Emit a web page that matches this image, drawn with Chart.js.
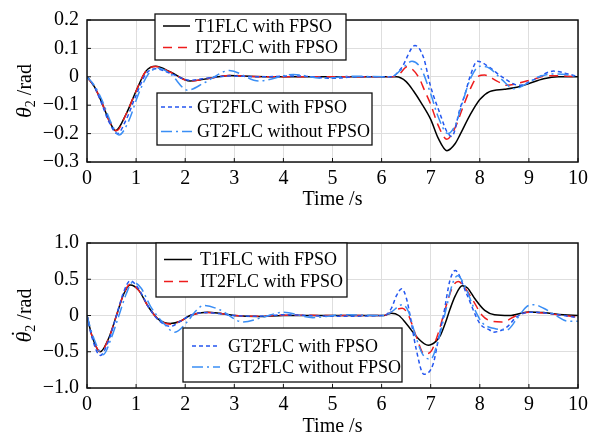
<!DOCTYPE html>
<html>
<head>
<meta charset="utf-8">
<script src="https://cdn.jsdelivr.net/npm/chart.js@4"></script>
<style>
  body { margin: 0; background: #fff; }
  .wrap { position: absolute; left: 0; width: 604px; }
</style>
</head>
<body>
<div class="wrap" style="top:0;height:220px"><canvas id="topChart" width="604" height="220"></canvas></div>
<div class="wrap" style="top:220px;height:221px"><canvas id="bottomChart" width="604" height="221"></canvas></div>
<script>
// series names (same for both panels)
const seriesLabels = ['T1FLC with FPSO', 'IT2FLC with FPSO', 'GT2FLC with FPSO', 'GT2FLC without FPSO'];

// tick labels
const xTicks = [0, 1, 2, 3, 4, 5, 6, 7, 8, 9, 10];
const topYTicks = [0.2, 0.1, 0, -0.1, -0.2, -0.3];
const bottomYTicks = [1.0, 0.5, 0, -0.5, -1.0];

// ---- top panel: theta2 (rad) ----
const topT1Time = [0, 0.15, 0.3, 0.45, 0.58, 0.8, 1.0, 1.2, 1.4, 1.7, 2.1, 2.5, 2.9, 3.4, 4.0, 5.0, 6.3, 6.5, 6.65, 6.8, 7.0, 7.15, 7.33, 7.5, 7.6, 7.8, 8.0, 8.2, 8.5, 8.8, 9.0, 9.3, 9.6, 10];
const topT1 = [0, -0.035, -0.09, -0.153, -0.19, -0.13, -0.05, 0.02, 0.037, 0.017, -0.015, -0.005, 0.005, 0.001, 0, 0, 0, -0.017, -0.05, -0.09, -0.15, -0.215, -0.26, -0.235, -0.203, -0.135, -0.08, -0.052, -0.044, -0.035, -0.024, -0.007, 0, 0];

const topIT2Time = [0, 0.15, 0.3, 0.45, 0.6, 0.8, 1.0, 1.2, 1.4, 1.7, 2.1, 2.5, 2.9, 3.4, 4.0, 5.0, 6.2, 6.35, 6.52, 6.75, 6.88, 7.0, 7.15, 7.33, 7.5, 7.65, 7.8, 7.95, 8.1, 8.35, 8.55, 8.8, 9.1, 9.4, 9.7, 10];
const topIT2 = [0, -0.035, -0.09, -0.155, -0.19, -0.13, -0.05, 0.02, 0.036, 0.016, -0.015, -0.005, 0.005, 0.001, 0, 0, 0, 0.008, 0.035, 0, -0.05, -0.097, -0.17, -0.22, -0.178, -0.11, -0.045, 0, 0.006, -0.015, -0.03, -0.022, -0.008, 0.004, 0.003, 0];

const topGT2Time = [0, 0.15, 0.3, 0.45, 0.62, 0.8, 1.0, 1.2, 1.4, 1.7, 2.1, 2.5, 2.9, 3.5, 4.3, 5.0, 5.5, 6.2, 6.4, 6.68, 6.85, 7.0, 7.2, 7.32, 7.43, 7.6, 7.7, 7.8, 7.95, 8.2, 8.45, 8.8, 9.1, 9.5, 9.8, 10];
const topGT2 = [0, -0.035, -0.095, -0.16, -0.2, -0.15, -0.065, 0.01, 0.028, 0.012, -0.012, -0.003, 0.003, 0, 0.003, -0.005, 0, 0, 0.03, 0.11, 0.07, -0.035, -0.135, -0.19, -0.21, -0.11, -0.06, 0, 0.055, 0.033, 0, -0.03, -0.01, 0.02, 0.01, 0];

const topGT2noTime = [0, 0.15, 0.3, 0.5, 0.65, 0.85, 1.05, 1.25, 1.45, 1.7, 2.05, 2.4, 2.9, 3.5, 4.2, 4.8, 5.4, 6.2, 6.4, 6.62, 6.8, 7.0, 7.15, 7.35, 7.5, 7.65, 7.8, 8.0, 8.2, 8.45, 8.7, 8.95, 9.2, 9.5, 9.75, 10];
const topGT2no = [0, -0.03, -0.08, -0.165, -0.205, -0.155, -0.06, 0.01, 0.03, 0.01, -0.047, -0.02, 0.022, -0.015, 0.008, -0.005, 0.002, 0, 0.025, 0.055, 0.03, -0.06, -0.14, -0.2, -0.17, -0.09, -0.01, 0.037, 0.03, -0.01, -0.042, -0.025, 0, 0.01, 0.008, 0];

// ---- bottom panel: theta2 dot (rad) ----
const botT1Time = [0, 0.1, 0.27, 0.45, 0.6, 0.75, 0.88, 1.05, 1.25, 1.45, 1.7, 1.9, 2.1, 2.45, 2.7, 3.0, 3.5, 4.0, 5.0, 6.05, 6.2, 6.35, 6.5, 6.75, 6.95, 7.1, 7.2, 7.3, 7.4, 7.5, 7.64, 7.75, 7.9, 8.1, 8.3, 8.6, 9.0, 9.3, 9.7, 10];
const botT1 = [0, -0.28, -0.5, -0.3, 0, 0.3, 0.42, 0.35, 0.12, -0.05, -0.11, -0.08, 0, 0.045, 0.03, 0, -0.015, 0, 0, 0, 0.03, 0, -0.11, -0.32, -0.41, -0.36, -0.27, -0.1, 0.1, 0.27, 0.41, 0.38, 0.23, 0.07, 0.01, 0, 0.05, 0.04, 0.01, 0];

const botIT2Time = [0, 0.1, 0.28, 0.45, 0.6, 0.75, 0.88, 1.05, 1.25, 1.45, 1.7, 1.9, 2.1, 2.45, 2.7, 3.0, 3.5, 4.0, 5.0, 6.05, 6.2, 6.42, 6.55, 6.7, 6.87, 7.0, 7.15, 7.3, 7.45, 7.56, 7.7, 7.87, 8.05, 8.25, 8.45, 8.75, 9.0, 9.3, 9.7, 10];
const botIT2 = [0, -0.28, -0.5, -0.3, 0, 0.3, 0.43, 0.35, 0.12, -0.05, -0.12, -0.08, 0, 0.04, 0.03, 0, -0.01, 0.005, 0, 0, 0.05, 0.1, 0, -0.28, -0.53, -0.5, -0.25, 0.1, 0.4, 0.47, 0.38, 0.2, 0, -0.08, -0.09, 0, 0.045, 0.035, 0, -0.02];

const botGT2Time = [0, 0.1, 0.27, 0.45, 0.6, 0.75, 0.88, 1.05, 1.25, 1.45, 1.7, 1.9, 2.1, 2.4, 2.7, 3.0, 3.5, 4.0, 5.0, 6.05, 6.2, 6.3, 6.41, 6.5, 6.58, 6.7, 6.86, 7.05, 7.15, 7.26, 7.39, 7.5, 7.73, 8.0, 8.2, 8.27, 8.55, 8.75, 9.02, 9.4, 9.7, 10];
const botGT2 = [0, -0.3, -0.55, -0.33, 0, 0.33, 0.48, 0.37, 0.12, -0.06, -0.15, -0.08, 0, 0.04, 0.025, 0, -0.01, 0.01, -0.01, 0, 0.1, 0.27, 0.37, 0.25, 0, -0.45, -0.81, -0.67, -0.35, 0, 0.48, 0.62, 0.3, -0.11, -0.2, -0.23, -0.16, -0.02, 0.045, 0.03, 0, -0.03];

const botGT2noTime = [0, 0.12, 0.33, 0.5, 0.65, 0.8, 0.93, 1.1, 1.3, 1.55, 1.79, 2.05, 2.2, 2.38, 2.7, 3.18, 3.6, 4.0, 4.6, 5.2, 6.05, 6.2, 6.42, 6.55, 6.7, 6.85, 7.0, 7.15, 7.3, 7.45, 7.55, 7.7, 7.87, 8.05, 8.3, 8.55, 8.75, 8.95, 9.1, 9.3, 9.55, 9.8, 10];
const botGT2no = [0, -0.28, -0.54, -0.3, 0, 0.3, 0.46, 0.38, 0.12, -0.1, -0.23, -0.08, 0.05, 0.14, 0.08, -0.09, -0.02, 0.045, -0.03, 0.01, 0, 0.05, 0.15, 0.05, -0.3, -0.55, -0.6, -0.35, 0.05, 0.45, 0.55, 0.4, 0.12, -0.1, -0.18, -0.2, -0.05, 0.12, 0.15, 0.1, 0, -0.08, -0.08];

// line styles per series
const lineStyles = [
  { color: '#000000', dash: [] },
  { color: '#ee1c1c', dash: [9, 6] },
  { color: '#2456f0', dash: [4, 3] },
  { color: '#3a8ef5', dash: [11, 4, 2, 4] }
];

const serif = '"Liberation Serif", "Times New Roman", serif';

function pairs(ts, vs) {
  return ts.map((t, i) => ({ x: t, y: vs[i] }));
}

function makeDatasets(seriesList) {
  return seriesList.map((s, i) => ({
    label: seriesLabels[i],
    data: pairs(s[0], s[1]),
    borderColor: lineStyles[i].color,
    borderDash: lineStyles[i].dash,
    borderWidth: 1.5,
    pointRadius: 0,
    cubicInterpolationMode: 'monotone',
    fill: false,
    order: 4 - i
  }));
}

function fmt(v) {
  if (Math.abs(v) < 1e-9) return '0';
  return (v < 0 ? '\u2212' : '') + Math.abs(v).toFixed(1);
}

// frame around the plot area + inward tick marks
const framePlugin = {
  id: 'frame',
  afterDatasetsDraw(chart) {
    const { ctx, chartArea: a } = chart;
    ctx.save();
    ctx.strokeStyle = '#111';
    ctx.lineWidth = 1.5;
    ctx.setLineDash([]);
    ctx.strokeRect(a.left, a.top, a.right - a.left, a.bottom - a.top);
    ctx.lineWidth = 1;
    chart.scales.x.ticks.forEach(t => {
      const px = chart.scales.x.getPixelForValue(t.value);
      ctx.beginPath(); ctx.moveTo(px, a.bottom); ctx.lineTo(px, a.bottom - 4); ctx.stroke();
    });
    chart.scales.y.ticks.forEach(t => {
      const py = chart.scales.y.getPixelForValue(t.value);
      ctx.beginPath(); ctx.moveTo(a.left, py); ctx.lineTo(a.left + 4, py); ctx.stroke();
    });
    ctx.restore();
  }
};

// boxed legends placed inside the plot
const boxLegendPlugin = {
  id: 'boxLegend',
  afterDraw(chart, args, opts) {
    const ctx = chart.ctx;
    ctx.save();
    opts.groups.forEach(g => {
      ctx.setLineDash([]);
      ctx.fillStyle = '#fff';
      ctx.fillRect(g.x, g.y, g.w, g.h);
      ctx.strokeStyle = '#111';
      ctx.lineWidth = 1.3;
      ctx.strokeRect(g.x, g.y, g.w, g.h);
      g.items.forEach((idx, k) => {
        const ds = chart.data.datasets[idx];
        const y = g.rows[k];
        ctx.strokeStyle = ds.borderColor;
        ctx.lineWidth = 1.5;
        ctx.setLineDash(ds.borderDash);
        ctx.beginPath(); ctx.moveTo(g.line[0], y); ctx.lineTo(g.line[1], y); ctx.stroke();
        ctx.setLineDash([]);
        ctx.fillStyle = '#000';
        ctx.font = '18px ' + serif;
        ctx.textBaseline = 'middle';
        ctx.fillText(ds.label, g.textX, y + 1);
      });
    });
    ctx.restore();
  }
};

// y axis title: italic theta, subscript 2, optional dot
const yTitlePlugin = {
  id: 'yTitle',
  afterDraw(chart, args, opts) {
    const { ctx, chartArea: a } = chart;
    const cy = (a.top + a.bottom) / 2;
    ctx.save();
    ctx.translate(opts.x, cy);
    ctx.rotate(-Math.PI / 2);
    ctx.fillStyle = '#000';
    ctx.textBaseline = 'alphabetic';
    const fIt = 'italic 22px ' + serif, fSub = '14px ' + serif, fReg = '20px ' + serif;
    ctx.font = fIt; const w1 = ctx.measureText('\u03b8').width;
    ctx.font = fSub; const w2 = ctx.measureText('2').width;
    ctx.font = fReg; const w3 = ctx.measureText(' /rad').width;
    let x = -(w1 + w2 + w3) / 2;
    const base = 7;
    ctx.font = fIt; ctx.fillText('\u03b8', x, base);
    if (opts.dot) {
      const wd = ctx.measureText('\u02d9').width;
      ctx.fillText('\u02d9', x + w1 / 2 - wd / 2 + 2, base - 5);
    }
    x += w1;
    ctx.font = fSub; ctx.fillText('2', x, base + 4);
    x += w2;
    ctx.font = fReg; ctx.fillText(' /rad', x, base);
    ctx.restore();
  }
};

function makeChart(id, seriesList, yMin, yMax, yTicks, padTop, xHeight, titlePad, legendGroups, dot) {
  return new Chart(document.getElementById(id), {
    type: 'line',
    data: { datasets: makeDatasets(seriesList) },
    options: {
      responsive: false,
      animation: false,
      layout: { padding: { top: padTop, right: 26, left: 0, bottom: 0 } },
      plugins: {
        legend: { display: false },
        tooltip: { enabled: false },
        boxLegend: { groups: legendGroups },
        yTitle: { x: 24, dot: dot }
      },
      scales: {
        x: {
          type: 'linear', min: 0, max: 10,
          afterBuildTicks: s => { s.ticks = xTicks.map(v => ({ value: v })); },
          afterFit: s => { s.height = xHeight; },
          grid: { color: '#dedede', lineWidth: 1, drawTicks: false },
          border: { display: false },
          ticks: { padding: 5, color: '#000', font: { family: serif, size: 20 }, maxRotation: 0 },
          title: { display: true, text: 'Time /s', color: '#000', font: { family: serif, size: 20 }, padding: { top: 0, bottom: titlePad } }
        },
        y: {
          min: yMin, max: yMax,
          afterBuildTicks: s => { s.ticks = yTicks.map(v => ({ value: v })); },
          afterFit: s => { s.width = 87; },
          grid: { color: '#dedede', lineWidth: 1, drawTicks: false },
          border: { display: false },
          ticks: { padding: 8, color: '#000', font: { family: serif, size: 20 }, callback: v => fmt(v) }
        }
      }
    },
    plugins: [framePlugin, boxLegendPlugin, yTitlePlugin]
  });
}

makeChart('topChart',
  [[topT1Time, topT1], [topIT2Time, topIT2], [topGT2Time, topGT2], [topGT2noTime, topGT2no]],
  -0.3, 0.2, topYTicks, 14, 58, 8,
  [
    { x: 155, y: 14, w: 191, h: 46, items: [0, 1], rows: [26, 47.5], line: [163, 190], textX: 195 },
    { x: 157, y: 93, w: 215, h: 52, items: [2, 3], rows: [107, 131.5], line: [161, 192], textX: 197 }
  ], false);

makeChart('bottomChart',
  [[botT1Time, botT1], [botIT2Time, botIT2], [botGT2Time, botGT2], [botGT2noTime, botGT2no]],
  -1.0, 1.0, bottomYTicks, 23, 53, 2,
  [
    { x: 156, y: 23, w: 191, h: 54, items: [0, 1], rows: [39.5, 61.5], line: [164, 192], textX: 200 },
    { x: 183, y: 108, w: 219, h: 54, items: [2, 3], rows: [126, 147], line: [192, 220], textX: 228 }
  ], true);
</script>
</body>
</html>
